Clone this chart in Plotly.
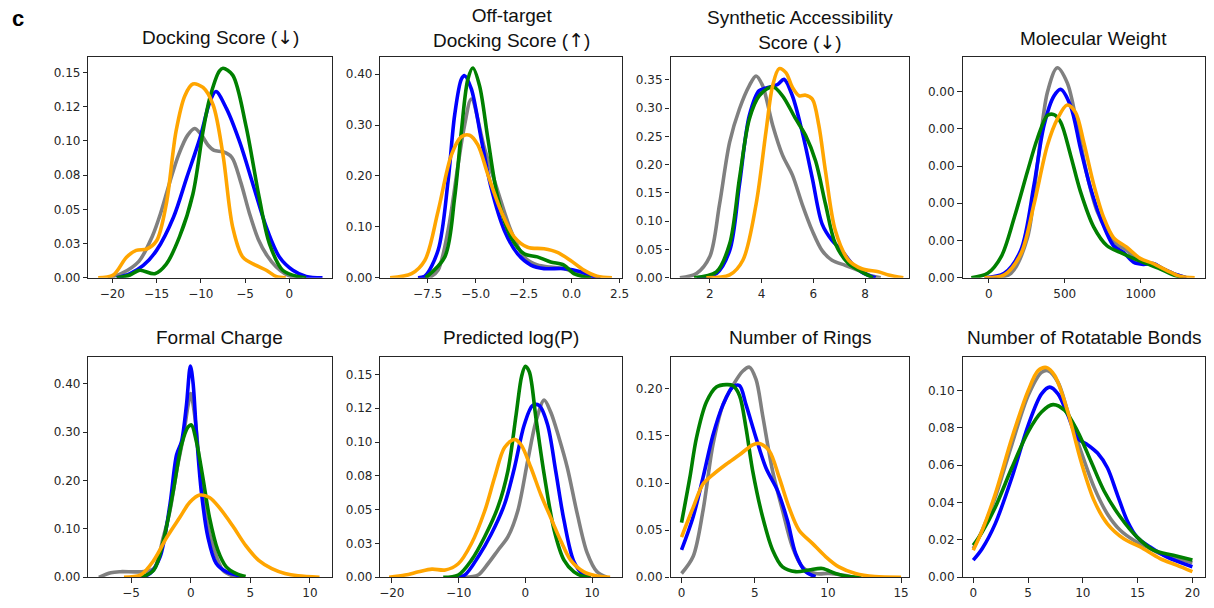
import plotly.graph_objects as go

# ---------------- data ----------------
SERIES = ["gray", "blue", "green", "orange"]

DOWN = "<span style=\"font-family:'DejaVu Sans'\">\u2193\ufe0e</span>"
UP = "<span style=\"font-family:'DejaVu Sans'\">\u2191\ufe0e</span>"
TITLES = ["Docking Score (" + DOWN + ")", "Off-target<br>Docking Score (" + UP + ")",
          "Synthetic Accessibility<br>Score (" + DOWN + ")", "Molecular Weight",
          "Formal Charge", "Predicted log(P)", "Number of Rings",
          "Number of Rotatable Bonds"]

# Panel 1: Docking score
dock_gray_x = [-20.5, -19, -17, -15.5, -14.5, -13.5, -12.5, -11.5, -10.7, -10, -9.2, -8.5, -7.5, -6.5, -5.5, -4.5, -3.5, -2.5, -1.5, -0.5, 0.5, 1.5]
dock_gray_y = [0, 0.003, 0.012, 0.03, 0.048, 0.07, 0.09, 0.104, 0.109, 0.105, 0.097, 0.093, 0.092, 0.088, 0.07, 0.047, 0.028, 0.016, 0.008, 0.003, 0.0005, 0]
dock_blue_x = [-19.5, -18, -16.5, -15, -13.1, -11.6, -10.1, -9, -8.3, -7.1, -5.6, -4.1, -2.6, -1.1, 0.4, 1.9, 3.75]
dock_blue_y = [0, 0.003, 0.009, 0.02, 0.044, 0.073, 0.102, 0.128, 0.136, 0.1235, 0.099, 0.068, 0.037, 0.015, 0.0055, 0.001, 0]
dock_green_x = [-19.5, -18, -16.9, -15.2, -13.9, -12.4, -10.9, -9.75, -9, -7.9, -7.5, -6.4, -4.9, -3.4, -2.25, -0.75, 1.1, 1.9]
dock_green_y = [0, 0.002, 0.0055, 0.003, 0.01, 0.03, 0.061, 0.107, 0.131, 0.151, 0.153, 0.148, 0.111, 0.0585, 0.025, 0.0055, 0.0007, 0]
dock_orange_x = [-21.6, -19.9, -18.4, -17.3, -16.1, -15, -13.9, -12.8, -11.8, -10.9, -9.75, -8.6, -7.5, -6.4, -5.25, -3.75, -2.6, -1.5, -0.4]
dock_orange_y = [0, 0.002, 0.015, 0.02, 0.021, 0.027, 0.054, 0.107, 0.133, 0.1415, 0.139, 0.126, 0.09, 0.037, 0.015, 0.009, 0.0055, 0.001, 0]

# Panel 2: Off-target docking score
off_gray_x = [-8.0, -7.3, -6.95, -6.43, -5.91, -5.57, -5.22, -4.53, -3.84, -3.16, -2.47, -1.78, -1.09, -0.4, 0.29, 0.8, 1.2]
off_gray_y = [0, 0.003, 0.015, 0.093, 0.222, 0.30, 0.351, 0.254, 0.17, 0.093, 0.041, 0.025, 0.021, 0.018, 0.008, 0.002, 0]
off_blue_x = [-8.0, -7.64, -6.95, -6.43, -6.09, -5.74, -5.57, -5.22, -4.71, -4.19, -3.5, -2.81, -2.12, -1.43, -0.4, 0.47, 1.16, 1.5]
off_blue_y = [0, 0.003, 0.054, 0.19, 0.319, 0.39, 0.397, 0.371, 0.274, 0.177, 0.093, 0.047, 0.025, 0.018, 0.018, 0.012, 0.002, 0]
off_green_x = [-7.6, -6.6, -6.09, -5.74, -5.4, -5.14, -4.79, -4.36, -3.84, -3.16, -2.47, -1.78, -1.09, -0.4, 0.12, 0.64, 1.0]
off_green_y = [0, 0.041, 0.157, 0.287, 0.39, 0.412, 0.377, 0.274, 0.157, 0.08, 0.047, 0.041, 0.031, 0.025, 0.008, 0.002, 0]
off_orange_x = [-9.45, -8.33, -7.64, -6.95, -6.26, -5.74, -5.31, -4.88, -4.36, -3.67, -2.98, -2.29, -1.43, -0.74, -0.05, 0.64, 1.33, 2.1]
off_orange_y = [0, 0.008, 0.034, 0.131, 0.241, 0.277, 0.28, 0.261, 0.203, 0.131, 0.08, 0.06, 0.057, 0.05, 0.034, 0.015, 0.003, 0]

# Panel 3: Synthetic accessibility
sa_gray_x = [0.85, 1.49, 2.0, 2.38, 2.77, 3.15, 3.53, 3.79, 4.04, 4.43, 4.81, 5.19, 5.57, 5.96, 6.34, 6.72, 7.23, 7.74, 8.26, 8.6]
sa_gray_y = [0, 0.0076, 0.037, 0.13, 0.24, 0.299, 0.34, 0.357, 0.34, 0.27, 0.217, 0.182, 0.13, 0.083, 0.048, 0.031, 0.022, 0.013, 0.003, 0]
sa_blue_x = [1.5, 2.26, 2.77, 3.15, 3.53, 3.91, 4.3, 4.62, 4.87, 5.19, 5.57, 5.96, 6.34, 6.72, 7.1, 7.49, 7.87, 8.4]
sa_blue_y = [0, 0.0076, 0.048, 0.165, 0.287, 0.331, 0.337, 0.342, 0.351, 0.322, 0.258, 0.176, 0.095, 0.066, 0.048, 0.025, 0.01, 0]
sa_green_x = [1.4, 2.26, 2.77, 3.15, 3.53, 3.91, 4.43, 4.81, 5.32, 5.7, 6.09, 6.47, 6.85, 7.36, 7.87, 8.3]
sa_green_y = [0, 0.0105, 0.06, 0.176, 0.281, 0.322, 0.338, 0.322, 0.281, 0.252, 0.206, 0.13, 0.06, 0.025, 0.0105, 0]
sa_orange_x = [1.87, 2.77, 3.28, 3.79, 4.17, 4.43, 4.68, 4.94, 5.19, 5.45, 5.7, 5.96, 6.21, 6.47, 6.85, 7.36, 7.87, 8.51, 8.9, 9.47]
sa_orange_y = [0, 0.005, 0.031, 0.13, 0.258, 0.34, 0.37, 0.363, 0.337, 0.322, 0.323, 0.316, 0.27, 0.188, 0.083, 0.031, 0.016, 0.0105, 0.005, 0]

# Panel 4: Molecular weight
mw_gray_x = [37, 146, 255, 320, 386, 451, 516, 582, 647, 712, 778, 843, 908, 996, 1083, 1148, 1235, 1300]
mw_gray_y = [0, 0.00006, 0.00054, 0.00152, 0.00249, 0.00282, 0.00262, 0.00205, 0.00138, 0.0009, 0.00063, 0.00045, 0.00037, 0.00021, 0.00019, 0.00012, 0.00004, 0]
mw_blue_x = [-28, 102, 211, 298, 364, 429, 473, 538, 603, 669, 734, 821, 887, 952, 1017, 1083, 1148, 1235, 1300]
mw_blue_y = [0, 0.00006, 0.00037, 0.00125, 0.00205, 0.00244, 0.00253, 0.00231, 0.00174, 0.00121, 0.00081, 0.00043, 0.00034, 0.00021, 0.00018, 0.00019, 0.00012, 0.00004, 0]
mw_green_x = [-115, -7, 81, 168, 255, 320, 386, 429, 473, 538, 603, 691, 778, 865, 952, 1039, 1126, 1213, 1280]
mw_green_y = [0, 0.00006, 0.00028, 0.00081, 0.00143, 0.00187, 0.00218, 0.00219, 0.00209, 0.00165, 0.00116, 0.00068, 0.00043, 0.00034, 0.00026, 0.00019, 0.00012, 0.00004, 0]
mw_orange_x = [-28, 102, 211, 298, 386, 451, 516, 571, 625, 691, 756, 821, 908, 996, 1083, 1170, 1257, 1355]
mw_orange_y = [0, 0.00004, 0.00032, 0.00099, 0.00178, 0.00213, 0.00232, 0.00222, 0.00182, 0.00125, 0.00081, 0.00054, 0.00041, 0.00026, 0.00019, 0.0001, 0.00002, 0]

# Panel 5: Formal charge
fc_gray_x = [-7.7, -6.7, -5.9, -4.2, -3.1, -2.3, -1.74, -1.19, -0.64, -0.22, 0, 0.33, 0.75, 1.3, 1.99, 2.68, 3.5, 4.1]
fc_gray_y = [0, 0.0095, 0.0116, 0.0116, 0.018, 0.083, 0.138, 0.219, 0.288, 0.356, 0.38, 0.335, 0.233, 0.124, 0.056, 0.015, 0.003, 0]
fc_blue_x = [-4.2, -3.4, -2.57, -1.74, -1.19, -0.77, -0.36, -0.03, 0.19, 0.47, 0.88, 1.44, 2.13, 2.96, 3.78, 4.3]
fc_blue_y = [0, 0.008, 0.042, 0.151, 0.253, 0.281, 0.356, 0.437, 0.403, 0.301, 0.179, 0.083, 0.029, 0.0116, 0.005, 0]
fc_green_x = [-4.2, -3.1, -2.29, -1.46, -0.77, -0.22, 0.06, 0.47, 1.02, 1.57, 2.27, 2.96, 3.78, 4.6]
fc_green_y = [0, 0.015, 0.076, 0.179, 0.274, 0.311, 0.315, 0.281, 0.206, 0.124, 0.056, 0.022, 0.008, 0.0014]
fc_orange_x = [-5.6, -4.2, -3.1, -2.0, -0.91, -0.08, 0.75, 1.57, 2.4, 3.5, 4.6, 5.7, 6.8, 7.9, 9.0, 10.8]
fc_orange_y = [0, 0.005, 0.035, 0.083, 0.124, 0.155, 0.17, 0.165, 0.144, 0.107, 0.066, 0.035, 0.018, 0.008, 0.003, 0]

# Panel 6: Predicted log(P)
lp_gray_x = [-9.06, -7.08, -5.6, -4.1, -2.6, -1.14, 0.35, 1.58, 2.82, 3.81, 5.05, 6.29, 7.77, 9.26, 10.74, 12.2]
lp_gray_y = [0, 0.0017, 0.01, 0.02, 0.03, 0.049, 0.086, 0.115, 0.131, 0.122, 0.103, 0.081, 0.047, 0.018, 0.004, 0]
lp_blue_x = [-10.5, -9.06, -7.08, -5.1, -3.12, -1.63, -0.15, 1.09, 2.08, 3.32, 4.55, 5.79, 7.28, 8.76, 9.8]
lp_blue_y = [0, 0.0017, 0.015, 0.032, 0.054, 0.081, 0.113, 0.127, 0.127, 0.113, 0.0785, 0.042, 0.0115, 0.0017, 0]
lp_green_x = [-12.3, -10.05, -8.07, -6.09, -4.1, -2.62, -1.39, -0.54, 0, 0.59, 1.58, 2.82, 4.31, 5.79, 7.28, 8.76, 9.8]
lp_green_y = [0, 0.0017, 0.0127, 0.03, 0.052, 0.0785, 0.12, 0.149, 0.156, 0.152, 0.118, 0.076, 0.035, 0.0127, 0.004, 0.0005, 0]
lp_orange_x = [-20.4, -18, -16, -14, -12, -10.05, -8.07, -6.09, -4.6, -3.12, -1.63, -0.64, 0.84, 2.33, 3.81, 5.3, 6.78, 8.76, 10.74, 12.7]
lp_orange_y = [0, 0.0017, 0.004, 0.006, 0.0054, 0.01, 0.025, 0.049, 0.074, 0.096, 0.102, 0.098, 0.081, 0.061, 0.044, 0.027, 0.0127, 0.004, 0.001, 0]

# Panel 7: Number of rings
nr_gray_x = [0, 0.79, 1.47, 2.15, 2.83, 3.5, 4.19, 4.64, 5.09, 5.54, 6.22, 6.9, 7.58, 8.26, 9.16, 10.07, 10.97, 11.8]
nr_gray_y = [0.004, 0.022, 0.071, 0.141, 0.183, 0.2035, 0.219, 0.223, 0.21, 0.172, 0.113, 0.071, 0.032, 0.011, 0.004, 0.004, 0.0024, 0]
nr_blue_x = [0, 0.79, 1.47, 2.15, 2.83, 3.5, 3.96, 4.41, 5.09, 5.77, 6.56, 7.24, 7.8, 8.48, 9.16]
nr_blue_y = [0.029, 0.064, 0.106, 0.151, 0.183, 0.202, 0.2035, 0.183, 0.148, 0.116, 0.092, 0.06, 0.025, 0.006, 0.0007]
nr_green_x = [0, 0.57, 1.02, 1.7, 2.38, 3.05, 3.5, 3.96, 4.41, 4.86, 5.54, 6.22, 6.9, 7.8, 8.71, 9.62, 10.52, 11.43, 12.3]
nr_green_y = [0.058, 0.106, 0.148, 0.186, 0.202, 0.2045, 0.2035, 0.193, 0.158, 0.113, 0.064, 0.029, 0.011, 0.006, 0.0077, 0.0094, 0.004, 0.0007, 0]
nr_orange_x = [0, 0.79, 1.47, 2.15, 3.05, 3.96, 4.86, 5.32, 6.0, 6.67, 7.35, 8.03, 8.94, 9.84, 10.75, 11.88, 13.2, 15.0]
nr_orange_y = [0.0427, 0.074, 0.099, 0.109, 0.12, 0.13, 0.1406, 0.142, 0.134, 0.106, 0.074, 0.05, 0.036, 0.022, 0.011, 0.004, 0.0007, 0]

# Panel 8: Number of rotatable bonds
rb_gray_x = [0, 0.81, 2.0, 3.52, 5.02, 6.23, 6.83, 7.73, 8.63, 9.83, 11.04, 12.24, 13.44, 14.65, 15.85, 17.05, 18.56, 20]
rb_gray_y = [0.0153, 0.025, 0.0427, 0.071, 0.0974, 0.1097, 0.1106, 0.1044, 0.0885, 0.0674, 0.048, 0.0339, 0.025, 0.0198, 0.0162, 0.0127, 0.01, 0.0078]
rb_blue_x = [0, 0.81, 2.0, 3.52, 5.02, 6.23, 6.98, 7.73, 8.63, 9.53, 10.44, 11.34, 12.24, 13.14, 14.05, 14.95, 16.15, 17.65, 20]
rb_blue_y = [0.0092, 0.0153, 0.0286, 0.0533, 0.0815, 0.0982, 0.1018, 0.0982, 0.0868, 0.0744, 0.0709, 0.0665, 0.0586, 0.0444, 0.0303, 0.0215, 0.0162, 0.0109, 0.0056]
rb_green_x = [0, 0.81, 2.0, 3.52, 5.02, 6.23, 7.28, 8.33, 9.53, 10.74, 11.94, 13.44, 14.95, 16.45, 18.26, 20]
rb_green_y = [0.0171, 0.0242, 0.0374, 0.0586, 0.078, 0.0885, 0.0924, 0.0894, 0.078, 0.0621, 0.0462, 0.0321, 0.0215, 0.0145, 0.0118, 0.0092]
rb_orange_x = [0, 0.81, 2.0, 3.52, 5.02, 5.92, 6.68, 7.43, 8.63, 9.83, 11.04, 12.24, 13.74, 15.25, 17.05, 18.56, 20]
rb_orange_y = [0.0145, 0.025, 0.0444, 0.0744, 0.1, 0.1106, 0.1123, 0.108, 0.0885, 0.0621, 0.0409, 0.0286, 0.0206, 0.0162, 0.01, 0.0065, 0.003]

# tick values / labels
X_TICKS = [[-20, -15, -10, -5, 0], [-7.5, -5, -2.5, 0, 2.5], [2, 4, 6, 8], [0, 500, 1000],
           [-5, 0, 5, 10], [-20, -10, 0, 10], [0, 5, 10, 15], [0, 5, 10, 15, 20]]
X_LABELS = [["−20", "−15", "−10", "−5", "0"], ["−7.5", "−5.0", "−2.5", "0.0", "2.5"], ["2", "4", "6", "8"],
            ["0", "500", "1000"], ["−5", "0", "5", "10"], ["−20", "−10", "0", "10"],
            ["0", "5", "10", "15"], ["0", "5", "10", "15", "20"]]
Y_TICKS = [[0, 0.025, 0.05, 0.075, 0.1, 0.125, 0.15], [0, 0.1, 0.2, 0.3, 0.4],
           [0, 0.05, 0.1, 0.15, 0.2, 0.25, 0.3, 0.35], [0, 0.0005, 0.001, 0.0015, 0.002, 0.0025],
           [0, 0.1, 0.2, 0.3, 0.4], [0, 0.025, 0.05, 0.075, 0.1, 0.125, 0.15],
           [0, 0.05, 0.1, 0.15, 0.2], [0, 0.02, 0.04, 0.06, 0.08, 0.1]]
Y_LABELS = [["0.00", "0.03", "0.05", "0.08", "0.10", "0.12", "0.15"], ["0.00", "0.10", "0.20", "0.30", "0.40"],
            ["0.00", "0.05", "0.10", "0.15", "0.20", "0.25", "0.30", "0.35"], ["0.00"] * 6,
            ["0.00", "0.10", "0.20", "0.30", "0.40"], ["0.00", "0.03", "0.05", "0.08", "0.10", "0.12", "0.15"],
            ["0.00", "0.05", "0.10", "0.15", "0.20"], ["0.00", "0.02", "0.04", "0.06", "0.08", "0.10"]]

PANELS = [
    [(dock_gray_x, dock_gray_y), (dock_blue_x, dock_blue_y), (dock_green_x, dock_green_y), (dock_orange_x, dock_orange_y)],
    [(off_gray_x, off_gray_y), (off_blue_x, off_blue_y), (off_green_x, off_green_y), (off_orange_x, off_orange_y)],
    [(sa_gray_x, sa_gray_y), (sa_blue_x, sa_blue_y), (sa_green_x, sa_green_y), (sa_orange_x, sa_orange_y)],
    [(mw_gray_x, mw_gray_y), (mw_blue_x, mw_blue_y), (mw_green_x, mw_green_y), (mw_orange_x, mw_orange_y)],
    [(fc_gray_x, fc_gray_y), (fc_blue_x, fc_blue_y), (fc_green_x, fc_green_y), (fc_orange_x, fc_orange_y)],
    [(lp_gray_x, lp_gray_y), (lp_blue_x, lp_blue_y), (lp_green_x, lp_green_y), (lp_orange_x, lp_orange_y)],
    [(nr_gray_x, nr_gray_y), (nr_blue_x, nr_blue_y), (nr_green_x, nr_green_y), (nr_orange_x, nr_orange_y)],
    [(rb_gray_x, rb_gray_y), (rb_blue_x, rb_blue_y), (rb_green_x, rb_green_y), (rb_orange_x, rb_orange_y)],
]

# ---------------- layout / style ----------------
W, H = 1214, 608
LINE_COLORS = {"gray": "#808080", "blue": "#0000ff", "green": "#008000", "orange": "#ffa500"}
X_RANGES = [[-22.7, 4.8], [-9.95, 2.62], [0.49, 9.69], [-172, 1423],
            [-8.58, 11.83], [-21.7, 14.46], [-0.75, 15.54], [-0.97, 21.15]]
Y_RANGES = [[0, 0.161], [0, 0.433], [0, 0.390], [0, 0.00296],
            [0, 0.456], [0, 0.163], [0, 0.234], [0, 0.118]]
COL_PX = [(88, 333), (382, 625), (674, 914), (968, 1212)]
ROW_PX = [(58, 281), (361, 584)]
TITLE_Y_PX = [37.5, 28.5, 30.5, 38.5, 341.5, 341.5, 341.5, 341.5]
TITLE_DX = [10, 10, 10, 10, 9, 10, 11, 0]

fig = go.Figure()
layout = dict(width=W, height=H, margin=dict(l=0, r=0, t=0, b=0),
              paper_bgcolor="white", plot_bgcolor="white", showlegend=False)
annotations = []
AX = "#262626"
for i in range(8):
    r, c = divmod(i, 4)
    n = "" if i == 0 else str(i + 1)
    x0, x1 = COL_PX[c]
    y0, y1 = ROW_PX[r]
    for s, (xs, ys) in zip(SERIES, PANELS[i]):
        fig.add_trace(go.Scatter(x=xs, y=ys, mode="lines", xaxis="x" + n, yaxis="y" + n,
                                 line=dict(color=LINE_COLORS[s], width=3.6, shape="spline", smoothing=0.9),
                                 hoverinfo="skip"))
    common = dict(showgrid=False, zeroline=False, showline=True, mirror=True, linecolor=AX,
                  linewidth=1.2, ticks="outside", ticklen=4.5, tickwidth=1.2, tickcolor=AX,
                  tickfont=dict(family="DejaVu Sans", size=12, color=AX), fixedrange=True)
    layout["xaxis" + n] = dict(domain=[x0 / W, x1 / W], range=X_RANGES[i], anchor="y" + n,
                               tickmode="array", tickvals=X_TICKS[i], ticktext=X_LABELS[i], **common)
    layout["yaxis" + n] = dict(domain=[1 - y1 / H, 1 - y0 / H], range=Y_RANGES[i], anchor="x" + n,
                               tickmode="array", tickvals=Y_TICKS[i], ticktext=Y_LABELS[i], **common)
    annotations.append(dict(text=TITLES[i], xref="paper", yref="paper",
                            x=((x0 + x1) / 2 + TITLE_DX[i]) / W, y=1 - TITLE_Y_PX[i] / H,
                            xanchor="center", yanchor="middle", showarrow=False,
                            font=dict(family="Liberation Sans, Arial", size=19, color="#111")))

annotations.append(dict(text="<b>c</b>", xref="paper", yref="paper", x=17 / W, y=1 - 19 / H,
                        xanchor="center", yanchor="middle", showarrow=False,
                        font=dict(family="Liberation Sans, Arial", size=22, color="black")))
layout["annotations"] = annotations
fig.update_layout(**layout)
fig.write_html("out.html")
